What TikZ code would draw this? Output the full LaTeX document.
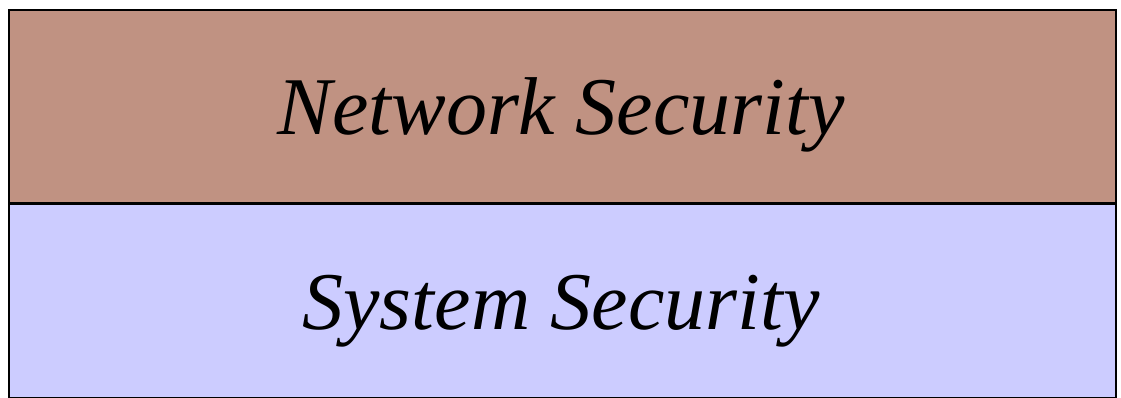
\documentclass[tikz,border=0pt]{standalone}
\usepackage{fontspec}
\setmainfont{Liberation Serif}
\definecolor{netfill}{RGB}{192,146,130}
\definecolor{sysfill}{RGB}{204,204,255}
\begin{document}
\begin{tikzpicture}[x=1pt,y=1pt,
  layer/.style={draw=black,line width=1.6pt,inner sep=0pt,minimum width=1107pt,minimum height=193pt},
  label/.style={font=\fontsize{82}{86}\selectfont\itshape,inner sep=0pt,anchor=base}]
\useasboundingbox (0,0) rectangle (1121,398);
\node[layer,fill=netfill,anchor=north west] (net) at (8,389) {};
\node[layer,fill=sysfill,anchor=north west] (sys) at (net.south west) {};
\node[label] (netlabel) at (561,263) {Network Security};
\node[label] (syslabel) at (561,68) {System Security};
\end{tikzpicture}
\end{document}
